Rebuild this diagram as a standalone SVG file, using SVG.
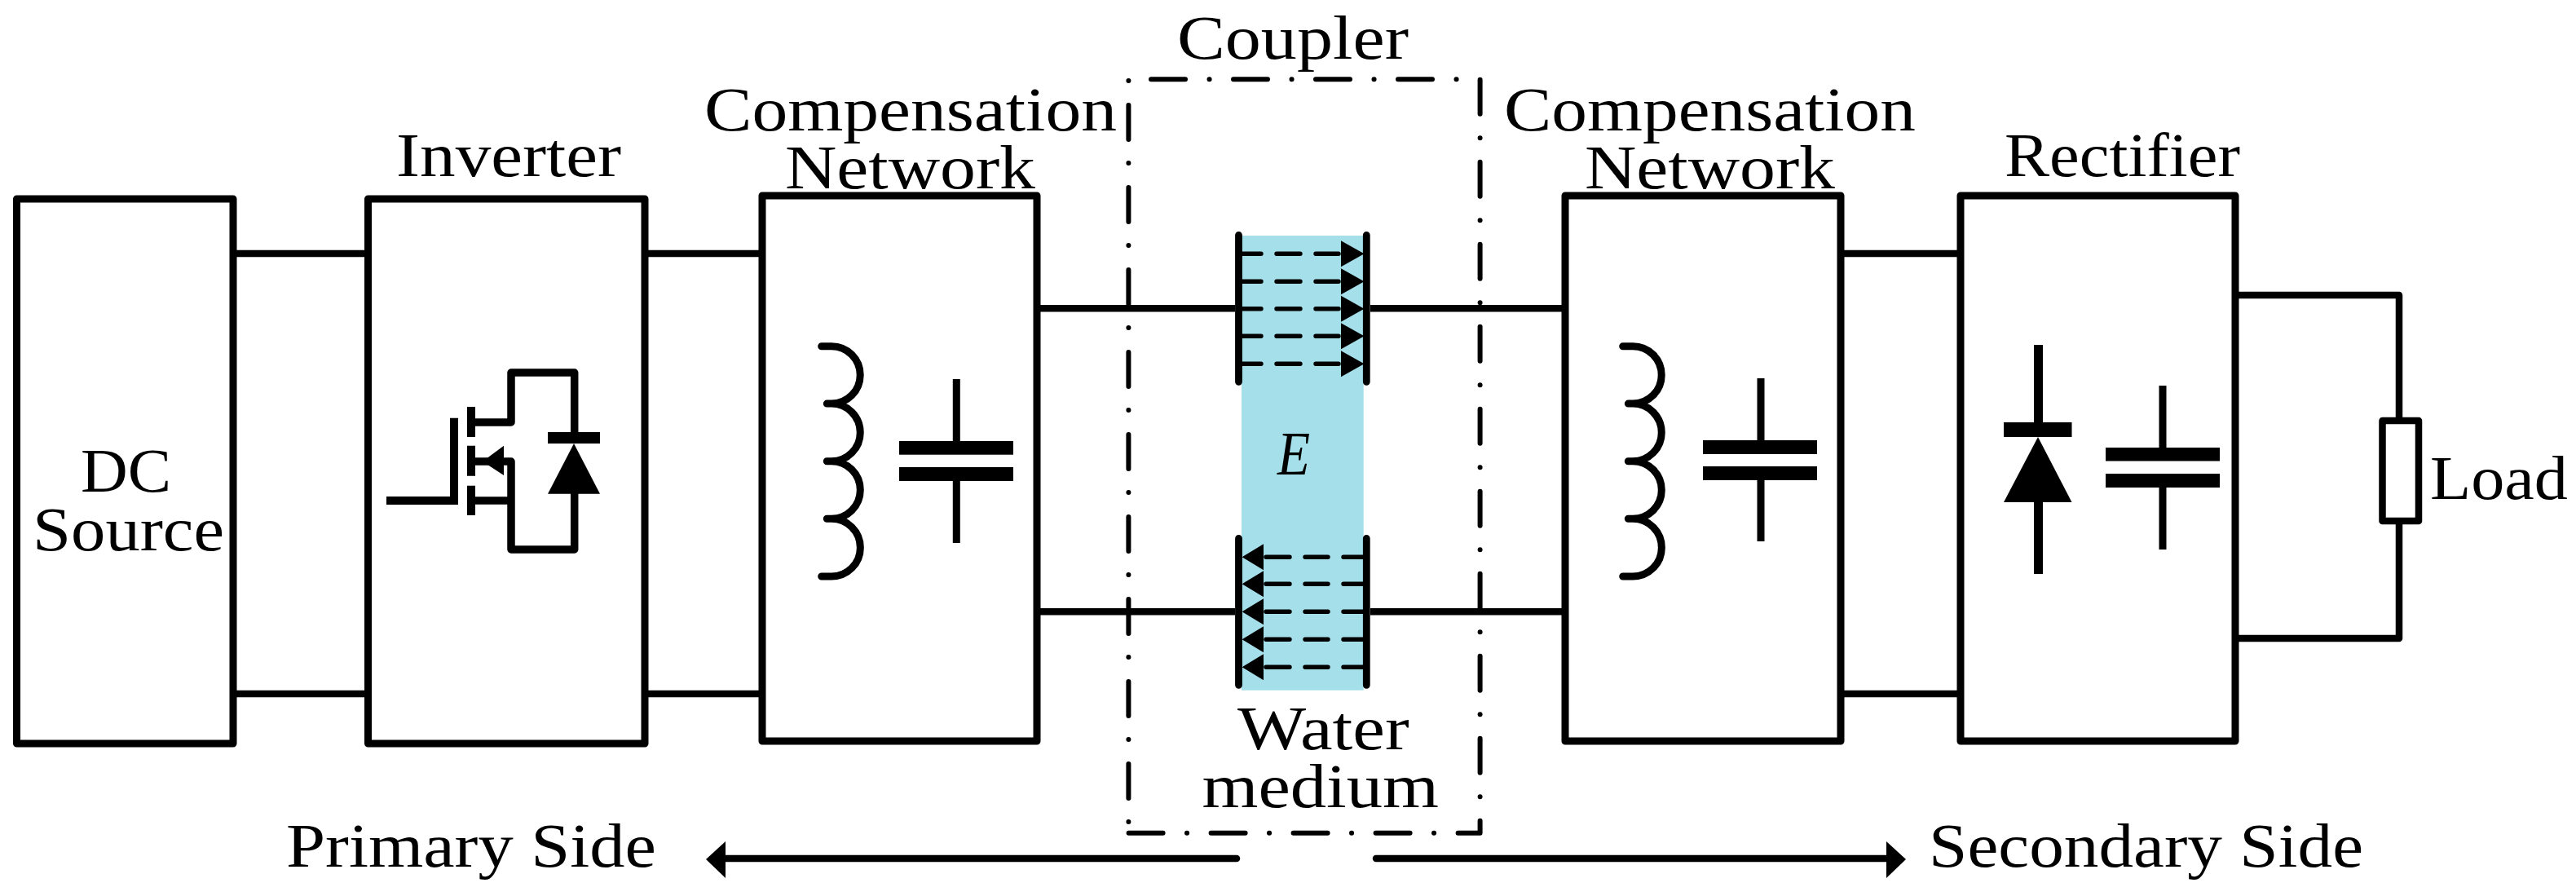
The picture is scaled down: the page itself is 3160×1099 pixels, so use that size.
<svg xmlns="http://www.w3.org/2000/svg" width="3160" height="1099" viewBox="0 0 3160 1099">
<style>
.t{font-family:"Liberation Serif","Times New Roman",serif;font-size:77px;fill:#000}
.i{font-style:italic}
.box{fill:none;stroke:#000;stroke-width:9;stroke-linejoin:round}
.w{fill:none;stroke:#000;stroke-width:8.5;stroke-linejoin:round}
.a{fill:none;stroke:#000;stroke-width:8.5;stroke-linecap:round}
.th{fill:none;stroke:#000;stroke-width:9;stroke-linecap:round}
.d{fill:none;stroke:#000;stroke-width:5.4;stroke-linecap:round}
.pl{fill:none;stroke:#000;stroke-width:8.8;stroke-linecap:round}
.dd{fill:none;stroke:#000;stroke-width:6;stroke-linecap:round;stroke-linejoin:round}
.k{fill:none;stroke:#000;stroke-width:9.5;stroke-linejoin:round}
.k9{fill:none;stroke:#000;stroke-width:9}
.k10{fill:none;stroke:#000;stroke-width:10}
.k11{fill:none;stroke:#000;stroke-width:11}
.f{fill:#000;stroke:none}
</style>
<defs>
<g id="inductor"><path class="th" d="M1007.7 424.7H1020A35.2 35.2 0 0 1 1020 495.1H1014.3M1014.3 495.1H1020A35.3 35.3 0 0 1 1020 565.7H1014.3M1014.3 565.7H1020A35.3 35.3 0 0 1 1020 636.3H1014.3M1014.3 636.3H1020A35.3 35.3 0 0 1 1020 707H1007.7"/></g>
</defs>
<rect width="3160" height="1099" fill="#fff"/>

<g id="connectors">
<path class="w" d="M286 311H451M286 851H451M791 311H935M791 851H935"/>
<path class="w" d="M1272 378.3H1515M1272 750.3H1515M1681 378.3H1920M1681 750.3H1920"/>
<path class="w" d="M2254 311H2405M2254 851H2405"/>
<path class="w" d="M2742 362H2943V516M2943 639V783H2742"/>
<path class="a" d="M1517 1053H885"/><polygon class="f" points="866,1054 890,1032 890,1077"/>
<path class="a" d="M1688 1053H2320"/><polygon class="f" points="2338,1054 2314,1032 2314,1077"/>
</g>

<g id="dc-source">
<rect class="box" x="20.500" y="244" width="265.500" height="668"/>
<text class="t" x="99" y="603" textLength="111" lengthAdjust="spacingAndGlyphs">DC</text>
<text class="t" x="40" y="675" textLength="235" lengthAdjust="spacingAndGlyphs">Source</text>
</g>

<g id="inverter">
<rect class="box" x="451.500" y="244" width="339.500" height="668"/>
<text class="t" x="486" y="216" textLength="276" lengthAdjust="spacingAndGlyphs">Inverter</text>
<path class="k10" d="M474 614H557V512.700"/>
<path class="k10" d="M578 499V536M578 546.700V583.700M578 595.700V632"/>
<path class="k" d="M583 518H627V457H704.700V530"/>
<path class="k" d="M590 566H627V674H704.700V605M583 614H627M583 566H600"/>
<polygon class="f" points="592,566 618,546.700 618,583"/>
<rect class="f" x="672" y="530" width="64" height="14"/>
<polygon class="f" points="704,544 736,605.700 672,605.700"/>
</g>

<g id="compensation-primary">
<rect class="box" x="935" y="240" width="337" height="669"/>
<text class="t" x="864" y="160" textLength="506" lengthAdjust="spacingAndGlyphs">Compensation</text>
<text class="t" x="963" y="231" textLength="307" lengthAdjust="spacingAndGlyphs">Network</text>
<use href="#inductor"/>
<path class="k9" d="M1173.300 465V545M1173.300 585V666"/>
<rect class="f" x="1103" y="541" width="140" height="16.700"/>
<rect class="f" x="1103" y="573" width="140" height="17"/>
</g>

<g id="coupler">
<path class="dd" stroke-dasharray="42 29.500 0.100 29.400" d="M1412 97.300H1815.600V1021.700H1384.400"/>
<path class="dd" stroke-dasharray="0.100 29 42 29.900" d="M1384.400 1008V99"/>
<text class="t" x="1444" y="71.500" textLength="284" lengthAdjust="spacingAndGlyphs">Coupler</text>
</g>

<g id="water-medium">
<rect x="1523" y="289" width="149.700" height="557.700" fill="#a5dfea"/>
<path class="d" d="M1523.700 311.300H1547M1566 311.300H1595M1614 311.300H1642M1523.700 345.300H1547M1566 345.300H1595M1614 345.300H1642M1523.700 378.700H1547M1566 378.700H1595M1614 378.700H1642M1523.700 412.300H1547M1566 412.300H1595M1614 412.300H1642M1523.700 446.300H1547M1566 446.300H1595M1614 446.300H1642"/>
<path class="f" d="M1645 295.300L1673.500 311.300L1645 327.300ZM1645 329.300L1673.500 345.300L1645 361.300ZM1645 362.700L1673.500 378.700L1645 394.700ZM1645 396.300L1673.500 412.300L1645 428.300ZM1645 430.300L1673.500 446.300L1645 462.300Z"/>
<path class="d" d="M1553 683.300H1582M1601 683.300H1629M1648 683.300H1673M1553 716.300H1582M1601 716.300H1629M1648 716.300H1673M1553 750.300H1582M1601 750.300H1629M1648 750.300H1673M1553 784.300H1582M1601 784.300H1629M1648 784.300H1673M1553 818.300H1582M1601 818.300H1629M1648 818.300H1673"/>
<path class="f" d="M1550 667.300L1523.700 683.300L1550 699.300ZM1550 700.300L1523.700 716.300L1550 732.300ZM1550 734.300L1523.700 750.300L1550 766.300ZM1550 768.300L1523.700 784.300L1550 800.300ZM1550 802.300L1523.700 818.300L1550 834.300Z"/>
<path class="pl" d="M1519.500 288.400V468.300M1676.300 288.400V468.300M1519.500 660.400V840.300M1676.300 660.400V840.300"/>
<text class="t i" x="1567" y="581.600" textLength="40" lengthAdjust="spacingAndGlyphs">E</text>
<text class="t" x="1518" y="919" textLength="210.600" lengthAdjust="spacingAndGlyphs">Water</text>
<text class="t" x="1474.500" y="989.500" textLength="290.500" lengthAdjust="spacingAndGlyphs">medium</text>
</g>

<g id="compensation-secondary">
<rect class="box" x="1920" y="240" width="338" height="669"/>
<text class="t" x="1845" y="160" textLength="505" lengthAdjust="spacingAndGlyphs">Compensation</text>
<text class="t" x="1944" y="231" textLength="307" lengthAdjust="spacingAndGlyphs">Network</text>
<use href="#inductor" x="983"/>
<path class="k9" d="M2160 464V545M2160 585V664"/>
<rect class="f" x="2089" y="540" width="140" height="17"/>
<rect class="f" x="2089" y="572" width="140" height="17"/>
</g>

<g id="rectifier">
<rect class="box" x="2405" y="240" width="337" height="669"/>
<text class="t" x="2459" y="216" textLength="289" lengthAdjust="spacingAndGlyphs">Rectifier</text>
<path class="k11" d="M2500.500 423V520M2500.500 610V704"/>
<rect class="f" x="2458" y="518" width="83.500" height="18"/>
<polygon class="f" points="2500,536 2541.500,616 2458,616"/>
<path class="k9" d="M2653 473V552M2653 594V674"/>
<rect class="f" x="2583" y="549" width="140" height="16.500"/>
<rect class="f" x="2583" y="581" width="140" height="17"/>
</g>

<g id="load">
<rect class="w" x="2922.500" y="516" width="44.500" height="123"/>
<text class="t" x="2981" y="612" textLength="169" lengthAdjust="spacingAndGlyphs">Load</text>
</g>

<g id="side-labels">
<text class="t" x="351" y="1063" textLength="454" lengthAdjust="spacingAndGlyphs">Primary Side</text>
<text class="t" x="2366" y="1063" textLength="533" lengthAdjust="spacingAndGlyphs">Secondary Side</text>
</g>
</svg>
